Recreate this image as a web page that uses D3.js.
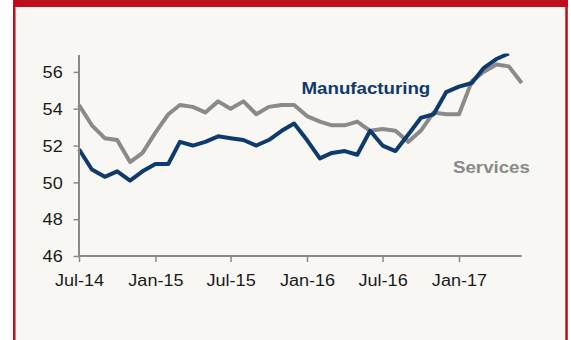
<!DOCTYPE html>
<html><head><meta charset="utf-8">
<script src="https://cdn.jsdelivr.net/npm/d3@7"></script>
<style>
html,body{margin:0;padding:0;background:#fff;}
svg{display:block;}
</style></head>
<body>
<script>
// Months from Jul-14
const months = ["2014-07","2014-08","2014-09","2014-10","2014-11","2014-12",
"2015-01","2015-02","2015-03","2015-04","2015-05","2015-06",
"2015-07","2015-08","2015-09","2015-10","2015-11","2015-12",
"2016-01","2016-02","2016-03","2016-04","2016-05","2016-06",
"2016-07","2016-08","2016-09","2016-10","2016-11","2016-12",
"2017-01","2017-02","2017-03","2017-04","2017-05","2017-06"];
const manufacturing = [51.8,50.7,50.3,50.6,50.1,50.6,51.0,51.0,52.2,52.0,52.2,52.5,
52.4,52.3,52.0,52.3,52.8,53.2,52.3,51.3,51.6,51.7,51.5,52.8,
52.0,51.7,52.6,53.5,53.7,54.9,55.2,55.4,56.2,56.7,57.0];
const services = [54.2,53.1,52.4,52.3,51.1,51.6,52.7,53.7,54.2,54.1,53.8,54.4,
54.0,54.4,53.7,54.1,54.2,54.2,53.6,53.3,53.1,53.1,53.3,52.8,
52.9,52.8,52.2,52.8,53.8,53.7,53.7,55.5,56.0,56.4,56.3,55.4];
const yTicks = [46,48,50,52,54,56];
const xTickLabels = ["Jul-14","Jan-15","Jul-15","Jan-16","Jul-16","Jan-17"];
const xTickDates = ["2014-07","2015-01","2015-07","2016-01","2016-07","2017-01"];
const seriesLabels = ["Manufacturing","Services"];

const W = 571, H = 340;
const parse = d3.timeParse("%Y-%m");
const svg = d3.select("body").append("svg").attr("width", W).attr("height", H);

// frame
svg.append("rect").attr("x",0).attr("y",0).attr("width",W).attr("height",H).attr("fill","#fff");
svg.append("rect").attr("x",14).attr("y",0).attr("width",552).attr("height",H).attr("fill","#f8f7f4");
svg.append("rect").attr("x",13).attr("y",0).attr("width",555).attr("height",7).attr("fill","#bd0d1e");
svg.append("rect").attr("x",13).attr("y",0).attr("width",2.5).attr("height",H).attr("fill","#bd0d1e");
svg.append("rect").attr("x",565.3).attr("y",0).attr("width",2.5).attr("height",H).attr("fill","#bd0d1e");

const x = d3.scaleTime().domain([parse("2014-07"), parse("2017-06")]).range([79, 521.7]);
const y = d3.scaleLinear().domain([46, 57]).range([256, 53.5]);

svg.append("defs").append("clipPath").attr("id","clip")
  .append("rect").attr("x",70).attr("y",53.5).attr("width",470).attr("height",210);

const mData = manufacturing.map((v,i)=>({d:parse(months[i]), v}));
const sData = services.map((v,i)=>({d:parse(months[i]), v}));
const line = d3.line().x(d=>x(d.d)).y(d=>y(d.v));

const g = svg.append("g").attr("clip-path","url(#clip)");
g.append("path").datum(sData).attr("d",line).attr("fill","none")
  .attr("stroke","#8a8a8a").attr("stroke-width",4).attr("stroke-linejoin","round");
g.append("path").datum(mData).attr("d",line).attr("fill","none")
  .attr("stroke","#0f3a6d").attr("stroke-width",4).attr("stroke-linejoin","round");

// axes
const yAxis = svg.append("g").attr("transform","translate(79,0)")
  .call(d3.axisLeft(y).tickValues(yTicks).tickSize(5.5).tickPadding(16).tickFormat(d3.format("d")));
const xAxis = svg.append("g").attr("transform","translate(0,256)")
  .call(d3.axisBottom(x).tickValues(xTickDates.map(parse)).tickSize(6).tickPadding(14)
    .tickFormat((d,i)=>xTickLabels[i]));

[yAxis, xAxis].forEach(a=>{
  a.select(".domain").attr("stroke","#8a8a8a").attr("stroke-width",2);
  a.selectAll(".tick line").attr("stroke","#8a8a8a").attr("stroke-width",1.5);
  a.selectAll("text").attr("fill","#1a1a1a")
    .style("font-family","'Liberation Sans', Arial, sans-serif").style("font-size","16px");
});
yAxis.selectAll("text").attr("x",0).attr("dy",null).attr("y",5.8)
  .attr("transform","translate(-16.3,0) scale(1.13,1)");
xAxis.selectAll("text").attr("dy",null).attr("y",30).attr("transform","scale(1.13,1)");
// domain lines: y axis full, x axis full, override default path with outer ticks
yAxis.select(".domain").attr("d",`M0,${y(46)}V${55}`);
xAxis.select(".domain").attr("d",`M${x.range()[0]},0H${x.range()[1]}`);

// series labels
svg.append("text").attr("transform","translate(301.5,94) scale(1.1,1)")
  .attr("fill","#0f3a6d").style("font-family","'Liberation Sans', Arial, sans-serif")
  .style("font-size","17px").style("font-weight","bold").text(seriesLabels[0]);
svg.append("text").attr("transform","translate(453,172.5) scale(1.1,1)")
  .attr("fill","#8a8a8a").style("font-family","'Liberation Sans', Arial, sans-serif")
  .style("font-size","17px").style("font-weight","bold").text(seriesLabels[1]);
</script>
</body></html>
